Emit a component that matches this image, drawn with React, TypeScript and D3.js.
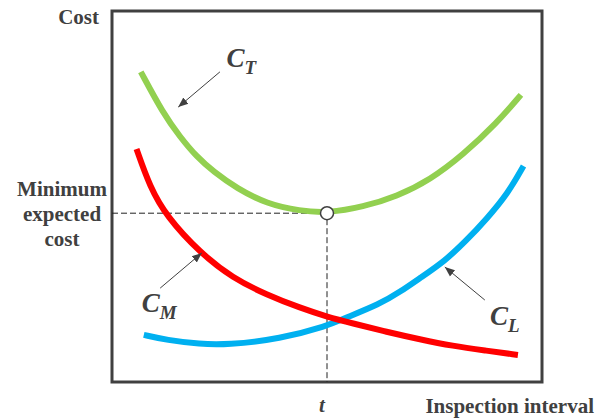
import * as d3 from 'd3';
import React, { useRef, useEffect } from 'react';

// curves, x = inspection interval, y = cost (arbitrary units 0..10)
const totalCost = [
  [0.67, 8.36], [1.19, 7.24], [1.58, 6.61], [1.97, 6.07], [2.36, 5.67], [2.9, 5.22],
  [3.6, 4.8], [4.37, 4.61], [5.02, 4.555], [5.84, 4.72], [6.62, 5.0], [7.4, 5.45],
  [8.16, 6.12], [8.95, 6.98], [9.51, 7.74],
];
const maintenanceCost = [
  [0.57, 6.28], [0.88, 5.26], [1.27, 4.46], [2.05, 3.48], [2.81, 2.8], [3.6, 2.35],
  [4.37, 2.0], [5.02, 1.75], [5.6, 1.58], [6.39, 1.35], [7.16, 1.15], [7.93, 0.97],
  [8.67, 0.85], [9.44, 0.73],
];
const lossCost = [
  [0.74, 1.27], [1.27, 1.13], [2.05, 1.02], [2.67, 1.0], [3.91, 1.16], [5.02, 1.52],
  [5.35, 1.69], [6.23, 2.1], [6.7, 2.43], [7.16, 2.8], [7.74, 3.26], [8.23, 3.8],
  [8.71, 4.39], [9.21, 5.09], [9.57, 5.82],
];
const optimum = [5.0, 4.55];

// label name, subscript, label position, arrow start, arrow end
const labels = [
  { main: 'C', sub: 'T', at: [2.66, 8.5], from: [2.51, 8.36], to: [1.54, 7.41] },
  { main: 'C', sub: 'M', at: [0.69, 1.9], from: [1.12, 2.53], to: [2.09, 3.48] },
  { main: 'C', sub: 'L', at: [8.79, 1.54], from: [8.67, 2.21], to: [7.74, 3.1] },
];

const yLabelLines = ['Minimum', 'expected', 'cost'];

const App = () => {
  const ref = useRef();

  useEffect(() => {
    const svg = d3.select(ref.current);
    svg.selectAll('*').remove();

    const margin = { top: 11, right: 60, bottom: 36, left: 112 };
    const W = 602, H = 418;

    const x = d3.scaleLinear().domain([0, 10]).range([margin.left, W - margin.right]);
    const y = d3.scaleLinear().domain([0, 10]).range([H - margin.bottom, margin.top]);

    const ink = '#404040';
    const font = '"Liberation Serif", "Times New Roman", serif';

    svg.append('defs').append('marker')
      .attr('id', 'head')
      .attr('viewBox', '0 0 10 10')
      .attr('refX', 10).attr('refY', 5)
      .attr('markerWidth', 10).attr('markerHeight', 10)
      .attr('markerUnits', 'userSpaceOnUse')
      .attr('orient', 'auto')
      .append('path')
      .attr('d', 'M0,1 L10,5 L0,9 Z')
      .attr('fill', ink);

    // frame
    svg.append('rect')
      .attr('x', x(0)).attr('y', y(10))
      .attr('width', x(10) - x(0)).attr('height', y(0) - y(10))
      .attr('fill', 'none').attr('stroke', ink).attr('stroke-width', 3);

    // guide lines to the optimum
    svg.append('line')
      .attr('x1', x(0)).attr('x2', x(optimum[0]) - 6)
      .attr('y1', y(optimum[1])).attr('y2', y(optimum[1]))
      .attr('stroke', '#222').attr('stroke-width', 1).attr('stroke-dasharray', '6,3');
    svg.append('line')
      .attr('x1', x(optimum[0])).attr('x2', x(optimum[0]))
      .attr('y1', y(optimum[1]) + 6).attr('y2', y(0))
      .attr('stroke', '#222').attr('stroke-width', 1).attr('stroke-dasharray', '6,3');

    const line = d3.line().x(d => x(d[0])).y(d => y(d[1])).curve(d3.curveBasis);

    const curves = [
      { data: lossCost, color: '#00b0f0' },
      { data: maintenanceCost, color: '#ff0000' },
      { data: totalCost, color: '#92d050' },
    ];
    svg.selectAll('path.curve')
      .data(curves)
      .enter().append('path')
      .attr('class', 'curve')
      .attr('d', d => line(d.data))
      .attr('fill', 'none')
      .attr('stroke', d => d.color)
      .attr('stroke-width', 6);

    svg.append('circle')
      .attr('cx', x(optimum[0])).attr('cy', y(optimum[1])).attr('r', 6.5)
      .attr('fill', '#fff').attr('stroke', ink).attr('stroke-width', 1.5);

    // arrows + curve labels
    labels.forEach(l => {
      svg.append('line')
        .attr('x1', x(l.from[0])).attr('y1', y(l.from[1]))
        .attr('x2', x(l.to[0])).attr('y2', y(l.to[1]))
        .attr('stroke', ink).attr('stroke-width', 1)
        .attr('marker-end', 'url(#head)');
      const t = svg.append('text')
        .attr('x', x(l.at[0])).attr('y', y(l.at[1]))
        .attr('font-family', font).attr('font-weight', 'bold').attr('font-style', 'italic')
        .attr('font-size', 27).attr('fill', ink);
      t.append('tspan').text(l.main);
      t.append('tspan').attr('dy', 7).attr('font-size', 19).text(l.sub);
    });

    // axis texts
    svg.append('text')
      .attr('x', 99).attr('y', 24)
      .attr('text-anchor', 'end')
      .attr('font-family', font).attr('font-weight', 'bold').attr('font-size', 21)
      .attr('fill', ink).text('Cost');

    svg.selectAll('text.ylab')
      .data(yLabelLines)
      .enter().append('text')
      .attr('class', 'ylab')
      .attr('x', 62)
      .attr('y', (d, i) => y(optimum[1]) - 17 + i * 25)
      .attr('text-anchor', 'middle')
      .attr('font-family', font).attr('font-weight', 'bold').attr('font-size', 21)
      .attr('fill', ink).text(d => d);

    svg.append('text')
      .attr('x', x(optimum[0]) - 5).attr('y', 412)
      .attr('text-anchor', 'middle')
      .attr('font-family', font).attr('font-weight', 'bold').attr('font-style', 'italic')
      .attr('font-size', 21).attr('fill', ink).text('t');

    svg.append('text')
      .attr('x', 594).attr('y', 413)
      .attr('text-anchor', 'end')
      .attr('font-family', font).attr('font-weight', 'bold').attr('font-size', 21)
      .attr('fill', ink).text('Inspection interval');
  }, []);

  return (
    <svg ref={ref} width={602} height={418}
      style={{ position: 'absolute', left: 0, top: 0, background: '#fff' }} />
  );
};

export default App;
